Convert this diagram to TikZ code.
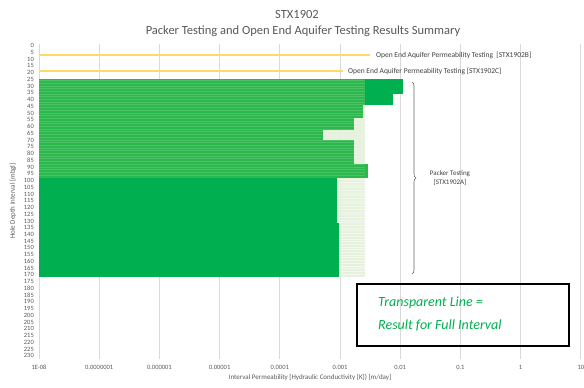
\documentclass[tikz,border=0pt]{standalone}
\usepackage{fontspec}
\setmainfont{Carlito}
\usetikzlibrary{decorations.pathreplacing}
\definecolor{barGreen}{HTML}{00B050}
\definecolor{stripeGreen}{HTML}{2DB84D}
\definecolor{paleGreen}{HTML}{E2F0D9}
\definecolor{testYellow}{HTML}{FFD966}
\definecolor{gridGray}{HTML}{D9D9D9}
\definecolor{txtGray}{HTML}{595959}

\begin{document}
\begin{tikzpicture}[x=1pt, y=-1pt,
  tick/.style={font=\fontsize{6.5}{7}\selectfont, text=txtGray, inner sep=0pt},
  gridline/.style={draw=gridGray, line width=0.75pt},
  testline/.style={draw=testYellow, line width=2pt},
  note/.style={font=\fontsize{7.5}{9}\selectfont, text=black!75, inner sep=0pt}]
  \useasboundingbox[fill=white] (0,0) rectangle (584,388);

  % titles
  \node[font=\fontsize{12.5}{14}\selectfont, text=txtGray] (title) at (297,14) {STX1902};
  \node[font=\fontsize{12.5}{14}\selectfont, text=txtGray] (subtitle) at (303,31) {Packer Testing and Open End Aquifer Testing Results Summary};

  % log grid, one line per decade
  \foreach \i/\lab in {0/1E-08,1/0.0000001,2/0.000001,3/0.00001,4/0.0001,5/0.001,6/0.01,7/0.1,8/1,9/10}{
    \draw[gridline] (39+60.2*\i,44) -- (39+60.2*\i,359);
    \node[tick] (xt\i) at (39+60.2*\i,367) {\lab};
  }
  \foreach \d in {0,5,...,230}
    \node[tick, anchor=east] (yt\d) at (34,45.7+1.348*\d) {\d};

  \node[tick, font=\fontsize{7}{8}\selectfont] (xtitle) at (310,378) {Interval Permeability [Hydraulic Conductivity [K]) [m/day]};
  \node[tick, font=\fontsize{7}{8}\selectfont, rotate=90] (ytitle) at (13,201) {Hole Depth Interval [mbgl]};

  % open end tests
  \draw[testline] (39,55) -- (370,55);
  \node[note, anchor=west] (oeb) at (376,55) {Open End Aquifer Permeability Testing\ \ [STX1902B]};
  \draw[testline] (39,71) -- (343,71);
  \node[note, anchor=west] (oec) at (348,71.5) {Open End Aquifer Permeability Testing [STX1902C]};

  % full interval results (transparent) and packer intervals
  \foreach \ya/\yb/\xk in {105/118/363,118/130/354,130/140/323,140/164/354}{
    \fill[paleGreen, opacity=0.85] (\xk,\ya) rectangle (365,\yb);
    \fill[stripeGreen] (39,\ya) rectangle (\xk,\yb);
  }
  \fill[stripeGreen] (39,79) rectangle (365,105);
  \fill[stripeGreen] (39,164) rectangle (368,178);
  \fill[barGreen] (365,79) rectangle (403,94);
  \fill[barGreen] (365,94) rectangle (393,105);
  \foreach \y in {80.4,83.1,...,177}
    \draw[white, opacity=0.15, line width=0.5pt] (39,\y) -- (365,\y);

  \fill[paleGreen, opacity=0.85] (337,178) rectangle (365,277);
  \foreach \y in {179.4,182.1,...,276}
    \draw[white, opacity=0.5, line width=0.5pt] (339,\y) -- (365,\y);
  \fill[barGreen] (39,178) rectangle (337,223);
  \fill[barGreen] (39,223) rectangle (339,277);

  % packer testing brace
  \coordinate (bracetop) at (412,82);
  \coordinate (bracebot) at (412,274);
  \draw[decorate, decoration={brace, amplitude=4pt}, draw=black!60, line width=0.6pt] (bracetop) -- (bracebot);
  \node[note, font=\fontsize{7}{9}\selectfont, align=center] (packer) at (450,178) {Packer Testing\\{}[STX1902A]};

  % legend note
  \node[draw, line width=1.3pt, minimum width=212pt, minimum height=62pt, inner sep=0pt] (keybox) at (463,315) {};
  \node[anchor=west, align=left, text=barGreen, inner sep=0pt,
        font=\itshape\fontsize{14}{23}\selectfont] (keytext) at (378,314.5) {Transparent Line =\\Result for Full Interval};
\end{tikzpicture}
\end{document}
